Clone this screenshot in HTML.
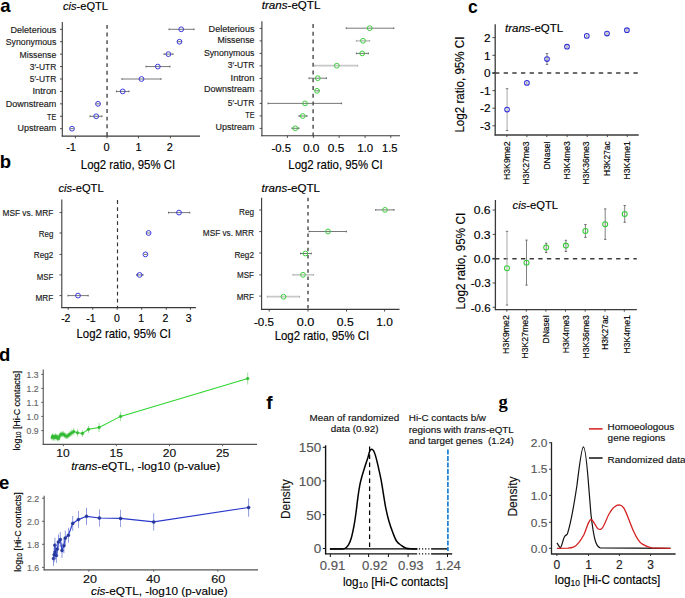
<!DOCTYPE html>
<html><head><meta charset="utf-8"><style>
html,body{margin:0;padding:0;background:#fff;}
svg{display:block;font-family:"Liberation Sans", sans-serif;}
</style></head><body>
<svg width="685" height="598" viewBox="0 0 685 598">
<rect width="685" height="598" fill="#fff"/>
<text x="0.2" y="11.6" font-size="18.5" font-weight="bold">a</text>
<text x="-0.2" y="167.8" font-size="18.5" font-weight="bold">b</text>
<text x="468.1" y="13.4" font-size="17.5" font-weight="bold">c</text>
<text x="-1" y="361" font-size="18.5" font-weight="bold">d</text>
<text x="-1" y="489.3" font-size="18.5" font-weight="bold">e</text>
<text x="266.3" y="408.8" font-size="19" font-weight="bold">f</text>
<text x="498.6" y="408.2" font-size="18.5" font-weight="bold" font-family="Liberation Serif, serif">g</text>
<text x="63" y="9.8" font-size="10.3" stroke="#000" stroke-width="0.15" textLength="45" lengthAdjust="spacingAndGlyphs"><tspan font-style="italic">cis</tspan>-eQTL</text>
<line x1="62.3" y1="22" x2="62.3" y2="136.6" stroke="#3a3a3a" stroke-width="1.1"/>
<line x1="61.8" y1="136.1" x2="200" y2="136.1" stroke="#3a3a3a" stroke-width="1.1"/>
<line x1="107.05" y1="24.9" x2="107.05" y2="136.1" stroke="#3a3a3a" stroke-width="1.3" stroke-dasharray="3.9,3.75"/>
<line x1="60.0" y1="29.3" x2="62.3" y2="29.3" stroke="#3a3a3a" stroke-width="0.9"/>
<line x1="60.0" y1="41.725" x2="62.3" y2="41.725" stroke="#3a3a3a" stroke-width="0.9"/>
<line x1="60.0" y1="54.150000000000006" x2="62.3" y2="54.150000000000006" stroke="#3a3a3a" stroke-width="0.9"/>
<line x1="60.0" y1="66.575" x2="62.3" y2="66.575" stroke="#3a3a3a" stroke-width="0.9"/>
<line x1="60.0" y1="79.0" x2="62.3" y2="79.0" stroke="#3a3a3a" stroke-width="0.9"/>
<line x1="60.0" y1="91.425" x2="62.3" y2="91.425" stroke="#3a3a3a" stroke-width="0.9"/>
<line x1="60.0" y1="103.85000000000001" x2="62.3" y2="103.85000000000001" stroke="#3a3a3a" stroke-width="0.9"/>
<line x1="60.0" y1="116.275" x2="62.3" y2="116.275" stroke="#3a3a3a" stroke-width="0.9"/>
<line x1="60.0" y1="128.70000000000002" x2="62.3" y2="128.70000000000002" stroke="#3a3a3a" stroke-width="0.9"/>
<text x="56.3" y="33" font-size="8.3" text-anchor="end" textLength="45.8" lengthAdjust="spacingAndGlyphs" fill="#1a1a1a" stroke="#1a1a1a" stroke-width="0.15">Deleterious</text>
<text x="56.3" y="44.7" font-size="8.3" text-anchor="end" textLength="50.6" lengthAdjust="spacingAndGlyphs" fill="#1a1a1a" stroke="#1a1a1a" stroke-width="0.15">Synonymous</text>
<text x="56.3" y="57.5" font-size="8.3" text-anchor="end" textLength="36.7" lengthAdjust="spacingAndGlyphs" fill="#1a1a1a" stroke="#1a1a1a" stroke-width="0.15">Missense</text>
<text x="56.3" y="69.6" font-size="8.3" text-anchor="end" textLength="26.5" lengthAdjust="spacingAndGlyphs" fill="#1a1a1a" stroke="#1a1a1a" stroke-width="0.15">3&#8242;-UTR</text>
<text x="56.3" y="82.1" font-size="8.3" text-anchor="end" textLength="26.5" lengthAdjust="spacingAndGlyphs" fill="#1a1a1a" stroke="#1a1a1a" stroke-width="0.15">5&#8242;-UTR</text>
<text x="56.3" y="93.9" font-size="8.3" text-anchor="end" textLength="23.9" lengthAdjust="spacingAndGlyphs" fill="#1a1a1a" stroke="#1a1a1a" stroke-width="0.15">Intron</text>
<text x="56.3" y="106.5" font-size="8.3" text-anchor="end" textLength="50.6" lengthAdjust="spacingAndGlyphs" fill="#1a1a1a" stroke="#1a1a1a" stroke-width="0.15">Downstream</text>
<text x="56.3" y="119.9" font-size="8.3" text-anchor="end" textLength="9.2" lengthAdjust="spacingAndGlyphs" fill="#1a1a1a" stroke="#1a1a1a" stroke-width="0.15">TE</text>
<text x="56.3" y="131.4" font-size="8.3" text-anchor="end" textLength="38.8" lengthAdjust="spacingAndGlyphs" fill="#1a1a1a" stroke="#1a1a1a" stroke-width="0.15">Upstream</text>
<line x1="75.4" y1="136.1" x2="75.4" y2="138.29999999999998" stroke="#3a3a3a" stroke-width="0.9"/>
<line x1="107" y1="136.1" x2="107" y2="138.29999999999998" stroke="#3a3a3a" stroke-width="0.9"/>
<line x1="138.5" y1="136.1" x2="138.5" y2="138.29999999999998" stroke="#3a3a3a" stroke-width="0.9"/>
<line x1="170.4" y1="136.1" x2="170.4" y2="138.29999999999998" stroke="#3a3a3a" stroke-width="0.9"/>
<line x1="169" y1="29.3" x2="194" y2="29.3" stroke="#555" stroke-width="0.8"/>
<line x1="169" y1="28.400000000000002" x2="169" y2="30.2" stroke="#444" stroke-width="0.75"/>
<line x1="194" y1="28.400000000000002" x2="194" y2="30.2" stroke="#444" stroke-width="0.75"/>
<circle cx="181.2" cy="29.3" r="2.4" fill="none" stroke="#3030d8" stroke-width="0.95"/>
<line x1="177" y1="41.725" x2="182" y2="41.725" stroke="#555" stroke-width="0.8"/>
<circle cx="179.5" cy="41.725" r="2.4" fill="none" stroke="#3030d8" stroke-width="0.95"/>
<line x1="164" y1="54.150000000000006" x2="173" y2="54.150000000000006" stroke="#555" stroke-width="0.8"/>
<line x1="164" y1="53.25000000000001" x2="164" y2="55.050000000000004" stroke="#444" stroke-width="0.75"/>
<line x1="173" y1="53.25000000000001" x2="173" y2="55.050000000000004" stroke="#444" stroke-width="0.75"/>
<circle cx="168.4" cy="54.150000000000006" r="2.4" fill="none" stroke="#3030d8" stroke-width="0.95"/>
<line x1="146" y1="66.575" x2="170" y2="66.575" stroke="#555" stroke-width="0.8"/>
<line x1="146" y1="65.675" x2="146" y2="67.47500000000001" stroke="#444" stroke-width="0.75"/>
<line x1="170" y1="65.675" x2="170" y2="67.47500000000001" stroke="#444" stroke-width="0.75"/>
<circle cx="157.8" cy="66.575" r="2.4" fill="none" stroke="#3030d8" stroke-width="0.95"/>
<line x1="122" y1="79.0" x2="161" y2="79.0" stroke="#555" stroke-width="0.8"/>
<line x1="122" y1="78.1" x2="122" y2="79.9" stroke="#444" stroke-width="0.75"/>
<line x1="161" y1="78.1" x2="161" y2="79.9" stroke="#444" stroke-width="0.75"/>
<circle cx="141.5" cy="79.0" r="2.4" fill="none" stroke="#3030d8" stroke-width="0.95"/>
<line x1="116.5" y1="91.425" x2="129" y2="91.425" stroke="#555" stroke-width="0.8"/>
<line x1="116.5" y1="90.52499999999999" x2="116.5" y2="92.325" stroke="#444" stroke-width="0.75"/>
<line x1="129" y1="90.52499999999999" x2="129" y2="92.325" stroke="#444" stroke-width="0.75"/>
<circle cx="122.7" cy="91.425" r="2.4" fill="none" stroke="#3030d8" stroke-width="0.95"/>
<line x1="96" y1="103.85000000000001" x2="100.5" y2="103.85000000000001" stroke="#555" stroke-width="0.8"/>
<circle cx="98.0" cy="103.85000000000001" r="2.4" fill="none" stroke="#3030d8" stroke-width="0.95"/>
<line x1="90" y1="116.275" x2="102" y2="116.275" stroke="#555" stroke-width="0.8"/>
<line x1="90" y1="115.375" x2="90" y2="117.17500000000001" stroke="#444" stroke-width="0.75"/>
<line x1="102" y1="115.375" x2="102" y2="117.17500000000001" stroke="#444" stroke-width="0.75"/>
<circle cx="96.2" cy="116.275" r="2.4" fill="none" stroke="#3030d8" stroke-width="0.95"/>
<line x1="70" y1="128.70000000000002" x2="74" y2="128.70000000000002" stroke="#555" stroke-width="0.8"/>
<circle cx="72" cy="128.70000000000002" r="2.4" fill="none" stroke="#3030d8" stroke-width="0.95"/>
<text x="71.1" y="150.9" font-size="11" text-anchor="middle" stroke="#000" stroke-width="0.15">-1</text>
<text x="106.65" y="150.9" font-size="11" text-anchor="middle" stroke="#000" stroke-width="0.15">0</text>
<text x="138.6" y="150.9" font-size="11" text-anchor="middle" stroke="#000" stroke-width="0.15">1</text>
<text x="169.75" y="150.9" font-size="11" text-anchor="middle" stroke="#000" stroke-width="0.15">2</text>
<text x="80.8" y="168.9" font-size="12.4" textLength="94.3" lengthAdjust="spacingAndGlyphs" stroke="#000" stroke-width="0.15">Log2 ratio, 95% CI</text>
<text x="261.8" y="8.6" font-size="10.3" stroke="#000" stroke-width="0.15" textLength="58.6" lengthAdjust="spacingAndGlyphs"><tspan font-style="italic">trans</tspan>-eQTL</text>
<line x1="261.9" y1="21.2" x2="261.9" y2="136.2" stroke="#3a3a3a" stroke-width="1.1"/>
<line x1="261.4" y1="135.7" x2="400" y2="135.7" stroke="#3a3a3a" stroke-width="1.1"/>
<line x1="313.1" y1="24.0" x2="313.1" y2="135.7" stroke="#3a3a3a" stroke-width="1.3" stroke-dasharray="3.9,3.85"/>
<line x1="259.59999999999997" y1="28.4" x2="261.9" y2="28.4" stroke="#3a3a3a" stroke-width="0.9"/>
<line x1="259.59999999999997" y1="40.9" x2="261.9" y2="40.9" stroke="#3a3a3a" stroke-width="0.9"/>
<line x1="259.59999999999997" y1="53.4" x2="261.9" y2="53.4" stroke="#3a3a3a" stroke-width="0.9"/>
<line x1="259.59999999999997" y1="65.9" x2="261.9" y2="65.9" stroke="#3a3a3a" stroke-width="0.9"/>
<line x1="259.59999999999997" y1="78.4" x2="261.9" y2="78.4" stroke="#3a3a3a" stroke-width="0.9"/>
<line x1="259.59999999999997" y1="90.9" x2="261.9" y2="90.9" stroke="#3a3a3a" stroke-width="0.9"/>
<line x1="259.59999999999997" y1="103.4" x2="261.9" y2="103.4" stroke="#3a3a3a" stroke-width="0.9"/>
<line x1="259.59999999999997" y1="115.9" x2="261.9" y2="115.9" stroke="#3a3a3a" stroke-width="0.9"/>
<line x1="259.59999999999997" y1="128.4" x2="261.9" y2="128.4" stroke="#3a3a3a" stroke-width="0.9"/>
<text x="254.5" y="31.7" font-size="8.3" text-anchor="end" textLength="45.9" lengthAdjust="spacingAndGlyphs" fill="#1a1a1a" stroke="#1a1a1a" stroke-width="0.15">Deleterious</text>
<text x="254.5" y="43.1" font-size="8.3" text-anchor="end" textLength="37" lengthAdjust="spacingAndGlyphs" fill="#1a1a1a" stroke="#1a1a1a" stroke-width="0.15">Missense</text>
<text x="254.5" y="56" font-size="8.3" text-anchor="end" textLength="50.6" lengthAdjust="spacingAndGlyphs" fill="#1a1a1a" stroke="#1a1a1a" stroke-width="0.15">Synonymous</text>
<text x="254.5" y="67.8" font-size="8.3" text-anchor="end" textLength="26.7" lengthAdjust="spacingAndGlyphs" fill="#1a1a1a" stroke="#1a1a1a" stroke-width="0.15">3&#8242;-UTR</text>
<text x="254.5" y="80.6" font-size="8.3" text-anchor="end" textLength="23.9" lengthAdjust="spacingAndGlyphs" fill="#1a1a1a" stroke="#1a1a1a" stroke-width="0.15">Intron</text>
<text x="254.5" y="92" font-size="8.3" text-anchor="end" textLength="50.6" lengthAdjust="spacingAndGlyphs" fill="#1a1a1a" stroke="#1a1a1a" stroke-width="0.15">Downstream</text>
<text x="254.5" y="105.7" font-size="8.3" text-anchor="end" textLength="26.7" lengthAdjust="spacingAndGlyphs" fill="#1a1a1a" stroke="#1a1a1a" stroke-width="0.15">5&#8242;-UTR</text>
<text x="254.5" y="118.3" font-size="8.3" text-anchor="end" textLength="9.2" lengthAdjust="spacingAndGlyphs" fill="#1a1a1a" stroke="#1a1a1a" stroke-width="0.15">TE</text>
<text x="254.5" y="129.8" font-size="8.3" text-anchor="end" textLength="38.9" lengthAdjust="spacingAndGlyphs" fill="#1a1a1a" stroke="#1a1a1a" stroke-width="0.15">Upstream</text>
<line x1="287.4" y1="135.7" x2="287.4" y2="137.89999999999998" stroke="#3a3a3a" stroke-width="0.9"/>
<line x1="313.4" y1="135.7" x2="313.4" y2="137.89999999999998" stroke="#3a3a3a" stroke-width="0.9"/>
<line x1="339.1" y1="135.7" x2="339.1" y2="137.89999999999998" stroke="#3a3a3a" stroke-width="0.9"/>
<line x1="365.1" y1="135.7" x2="365.1" y2="137.89999999999998" stroke="#3a3a3a" stroke-width="0.9"/>
<line x1="390.8" y1="135.7" x2="390.8" y2="137.89999999999998" stroke="#3a3a3a" stroke-width="0.9"/>
<line x1="346.2" y1="28.2" x2="393.8" y2="28.2" stroke="#555" stroke-width="0.8"/>
<line x1="346.2" y1="27.3" x2="346.2" y2="29.099999999999998" stroke="#444" stroke-width="0.75"/>
<line x1="393.8" y1="27.3" x2="393.8" y2="29.099999999999998" stroke="#444" stroke-width="0.75"/>
<circle cx="369.7" cy="28.2" r="2.4" fill="none" stroke="#33cc33" stroke-width="0.95"/>
<line x1="356.3" y1="40.8" x2="369.7" y2="40.8" stroke="#c8c8c8" stroke-width="1.7"/>
<line x1="356.3" y1="39.9" x2="356.3" y2="41.699999999999996" stroke="#999" stroke-width="0.75"/>
<line x1="369.7" y1="39.9" x2="369.7" y2="41.699999999999996" stroke="#999" stroke-width="0.75"/>
<circle cx="363" cy="40.8" r="2.4" fill="none" stroke="#33cc33" stroke-width="0.95"/>
<line x1="356.3" y1="53.4" x2="368.4" y2="53.4" stroke="#555" stroke-width="0.8"/>
<line x1="356.3" y1="52.5" x2="356.3" y2="54.3" stroke="#444" stroke-width="0.75"/>
<line x1="368.4" y1="52.5" x2="368.4" y2="54.3" stroke="#444" stroke-width="0.75"/>
<circle cx="362.2" cy="53.4" r="2.4" fill="none" stroke="#33cc33" stroke-width="0.95"/>
<line x1="314.8" y1="65.7" x2="357.7" y2="65.7" stroke="#c8c8c8" stroke-width="1.7"/>
<line x1="314.8" y1="64.8" x2="314.8" y2="66.60000000000001" stroke="#999" stroke-width="0.75"/>
<line x1="357.7" y1="64.8" x2="357.7" y2="66.60000000000001" stroke="#999" stroke-width="0.75"/>
<circle cx="336.8" cy="65.7" r="2.4" fill="none" stroke="#33cc33" stroke-width="0.95"/>
<line x1="309" y1="78.2" x2="326.4" y2="78.2" stroke="#555" stroke-width="0.8"/>
<line x1="309" y1="77.3" x2="309" y2="79.10000000000001" stroke="#444" stroke-width="0.75"/>
<line x1="326.4" y1="77.3" x2="326.4" y2="79.10000000000001" stroke="#444" stroke-width="0.75"/>
<circle cx="317.8" cy="78.2" r="2.4" fill="none" stroke="#33cc33" stroke-width="0.95"/>
<line x1="315" y1="90.8" x2="320" y2="90.8" stroke="#555" stroke-width="0.8"/>
<circle cx="317" cy="90.8" r="2.4" fill="none" stroke="#33cc33" stroke-width="0.95"/>
<line x1="268" y1="103.4" x2="341.6" y2="103.4" stroke="#555" stroke-width="0.8"/>
<line x1="268" y1="102.5" x2="268" y2="104.30000000000001" stroke="#444" stroke-width="0.75"/>
<line x1="341.6" y1="102.5" x2="341.6" y2="104.30000000000001" stroke="#444" stroke-width="0.75"/>
<circle cx="305" cy="103.4" r="2.4" fill="none" stroke="#33cc33" stroke-width="0.95"/>
<line x1="299" y1="116" x2="307" y2="116" stroke="#555" stroke-width="0.8"/>
<line x1="299" y1="115.1" x2="299" y2="116.9" stroke="#444" stroke-width="0.75"/>
<line x1="307" y1="115.1" x2="307" y2="116.9" stroke="#444" stroke-width="0.75"/>
<circle cx="302.8" cy="116" r="2.4" fill="none" stroke="#33cc33" stroke-width="0.95"/>
<line x1="292" y1="128.3" x2="299" y2="128.3" stroke="#555" stroke-width="0.8"/>
<line x1="292" y1="127.4" x2="292" y2="129.20000000000002" stroke="#444" stroke-width="0.75"/>
<line x1="299" y1="127.4" x2="299" y2="129.20000000000002" stroke="#444" stroke-width="0.75"/>
<circle cx="295.3" cy="128.3" r="2.4" fill="none" stroke="#33cc33" stroke-width="0.95"/>
<text x="281.3" y="152.1" font-size="11" text-anchor="middle" textLength="19.6" lengthAdjust="spacingAndGlyphs" stroke="#000" stroke-width="0.15">-0.5</text>
<text x="311.2" y="152.1" font-size="11" text-anchor="middle" textLength="16.6" lengthAdjust="spacingAndGlyphs" stroke="#000" stroke-width="0.15">0.0</text>
<text x="336.0" y="152.1" font-size="11" text-anchor="middle" textLength="16.6" lengthAdjust="spacingAndGlyphs" stroke="#000" stroke-width="0.15">0.5</text>
<text x="365.15" y="152.1" font-size="11" text-anchor="middle" textLength="15.900000000000011" lengthAdjust="spacingAndGlyphs" stroke="#000" stroke-width="0.15">1.0</text>
<text x="389.75" y="152.1" font-size="11" text-anchor="middle" textLength="15.499999999999977" lengthAdjust="spacingAndGlyphs" stroke="#000" stroke-width="0.15">1.5</text>
<text x="288.3" y="168.9" font-size="12.4" textLength="94.3" lengthAdjust="spacingAndGlyphs" stroke="#000" stroke-width="0.15">Log2 ratio, 95% CI</text>
<text x="58.4" y="192.1" font-size="10.3" stroke="#000" stroke-width="0.15" textLength="45.2" lengthAdjust="spacingAndGlyphs"><tspan font-style="italic">cis</tspan>-eQTL</text>
<line x1="61.8" y1="199.4" x2="61.8" y2="308.1" stroke="#3a3a3a" stroke-width="1.1"/>
<line x1="61.3" y1="307.6" x2="195.9" y2="307.6" stroke="#3a3a3a" stroke-width="1.1"/>
<line x1="117.5" y1="200.1" x2="117.5" y2="307.6" stroke="#333" stroke-width="1.15" stroke-dasharray="3.8,3.25"/>
<line x1="59.5" y1="212.6" x2="61.8" y2="212.6" stroke="#3a3a3a" stroke-width="0.9"/>
<line x1="59.5" y1="233.0" x2="61.8" y2="233.0" stroke="#3a3a3a" stroke-width="0.9"/>
<line x1="59.5" y1="254.4" x2="61.8" y2="254.4" stroke="#3a3a3a" stroke-width="0.9"/>
<line x1="59.5" y1="274.9" x2="61.8" y2="274.9" stroke="#3a3a3a" stroke-width="0.9"/>
<line x1="59.5" y1="295.6" x2="61.8" y2="295.6" stroke="#3a3a3a" stroke-width="0.9"/>
<text x="53.3" y="215.8" font-size="8.7" text-anchor="end" textLength="50.8" lengthAdjust="spacingAndGlyphs" fill="#1a1a1a" stroke="#1a1a1a" stroke-width="0.15">MSF vs. MRF</text>
<text x="53.3" y="236.8" font-size="8.7" text-anchor="end" textLength="14.5" lengthAdjust="spacingAndGlyphs" fill="#1a1a1a" stroke="#1a1a1a" stroke-width="0.15">Reg</text>
<text x="53.3" y="258.4" font-size="8.7" text-anchor="end" textLength="19.5" lengthAdjust="spacingAndGlyphs" fill="#1a1a1a" stroke="#1a1a1a" stroke-width="0.15">Reg2</text>
<text x="53.3" y="279.5" font-size="8.7" text-anchor="end" textLength="16.6" lengthAdjust="spacingAndGlyphs" fill="#1a1a1a" stroke="#1a1a1a" stroke-width="0.15">MSF</text>
<text x="53.3" y="300.9" font-size="8.7" text-anchor="end" textLength="17.8" lengthAdjust="spacingAndGlyphs" fill="#1a1a1a" stroke="#1a1a1a" stroke-width="0.15">MRF</text>
<line x1="68.2" y1="307.6" x2="68.2" y2="309.8" stroke="#3a3a3a" stroke-width="0.9"/>
<line x1="92.7" y1="307.6" x2="92.7" y2="309.8" stroke="#3a3a3a" stroke-width="0.9"/>
<line x1="117.2" y1="307.6" x2="117.2" y2="309.8" stroke="#3a3a3a" stroke-width="0.9"/>
<line x1="141.7" y1="307.6" x2="141.7" y2="309.8" stroke="#3a3a3a" stroke-width="0.9"/>
<line x1="166.3" y1="307.6" x2="166.3" y2="309.8" stroke="#3a3a3a" stroke-width="0.9"/>
<line x1="190.4" y1="307.6" x2="190.4" y2="309.8" stroke="#3a3a3a" stroke-width="0.9"/>
<line x1="168.5" y1="212.6" x2="189.8" y2="212.6" stroke="#555" stroke-width="0.8"/>
<line x1="168.5" y1="211.7" x2="168.5" y2="213.5" stroke="#444" stroke-width="0.75"/>
<line x1="189.8" y1="211.7" x2="189.8" y2="213.5" stroke="#444" stroke-width="0.75"/>
<circle cx="179" cy="212.6" r="2.4" fill="none" stroke="#3030d8" stroke-width="0.95"/>
<line x1="147" y1="233.0" x2="150.3" y2="233.0" stroke="#555" stroke-width="0.8"/>
<circle cx="148.6" cy="233.0" r="2.4" fill="none" stroke="#3030d8" stroke-width="0.95"/>
<line x1="144" y1="254.4" x2="147" y2="254.4" stroke="#555" stroke-width="0.8"/>
<circle cx="145.4" cy="254.4" r="2.4" fill="none" stroke="#3030d8" stroke-width="0.95"/>
<line x1="136.7" y1="274.9" x2="143" y2="274.9" stroke="#555" stroke-width="0.8"/>
<line x1="136.7" y1="274.0" x2="136.7" y2="275.79999999999995" stroke="#444" stroke-width="0.75"/>
<line x1="143" y1="274.0" x2="143" y2="275.79999999999995" stroke="#444" stroke-width="0.75"/>
<circle cx="139.6" cy="274.9" r="2.4" fill="none" stroke="#3030d8" stroke-width="0.95"/>
<line x1="68" y1="295.6" x2="88.2" y2="295.6" stroke="#555" stroke-width="0.8"/>
<line x1="68" y1="294.70000000000005" x2="68" y2="296.5" stroke="#444" stroke-width="0.75"/>
<line x1="88.2" y1="294.70000000000005" x2="88.2" y2="296.5" stroke="#444" stroke-width="0.75"/>
<circle cx="78" cy="295.6" r="2.4" fill="none" stroke="#3030d8" stroke-width="0.95"/>
<text x="65.8" y="322.4" font-size="10.5" text-anchor="middle" stroke="#000" stroke-width="0.15">-2</text>
<text x="91.0" y="322.4" font-size="10.5" text-anchor="middle" stroke="#000" stroke-width="0.15">-1</text>
<text x="116.9" y="322.4" font-size="10.5" text-anchor="middle" stroke="#000" stroke-width="0.15">0</text>
<text x="141.25" y="322.4" font-size="10.5" text-anchor="middle" stroke="#000" stroke-width="0.15">1</text>
<text x="165.45" y="322.4" font-size="10.5" text-anchor="middle" stroke="#000" stroke-width="0.15">2</text>
<text x="188.75" y="322.4" font-size="10.5" text-anchor="middle" stroke="#000" stroke-width="0.15">3</text>
<text x="76.5" y="337.8" font-size="12.4" textLength="94.3" lengthAdjust="spacingAndGlyphs" stroke="#000" stroke-width="0.15">Log2 ratio, 95% CI</text>
<text x="261.5" y="192.1" font-size="10.3" stroke="#000" stroke-width="0.15" textLength="58.5" lengthAdjust="spacingAndGlyphs"><tspan font-style="italic">trans</tspan>-eQTL</text>
<line x1="261.6" y1="197.8" x2="261.6" y2="309.9" stroke="#3a3a3a" stroke-width="1.1"/>
<line x1="261.1" y1="309.4" x2="399.5" y2="309.4" stroke="#3a3a3a" stroke-width="1.1"/>
<line x1="308.0" y1="197.8" x2="308.0" y2="309.4" stroke="#777" stroke-width="1.9" stroke-dasharray="3.5,3.65"/>
<line x1="259.3" y1="210" x2="261.6" y2="210" stroke="#3a3a3a" stroke-width="0.9"/>
<line x1="259.3" y1="231.6" x2="261.6" y2="231.6" stroke="#3a3a3a" stroke-width="0.9"/>
<line x1="259.3" y1="253.0" x2="261.6" y2="253.0" stroke="#3a3a3a" stroke-width="0.9"/>
<line x1="259.3" y1="274.9" x2="261.6" y2="274.9" stroke="#3a3a3a" stroke-width="0.9"/>
<line x1="259.3" y1="296.1" x2="261.6" y2="296.1" stroke="#3a3a3a" stroke-width="0.9"/>
<text x="254" y="214.9" font-size="8.7" text-anchor="end" textLength="15" lengthAdjust="spacingAndGlyphs" fill="#1a1a1a" stroke="#1a1a1a" stroke-width="0.15">Reg</text>
<text x="254" y="236" font-size="8.7" text-anchor="end" textLength="51.2" lengthAdjust="spacingAndGlyphs" fill="#1a1a1a" stroke="#1a1a1a" stroke-width="0.15">MSF vs. MRR</text>
<text x="254" y="257.5" font-size="8.7" text-anchor="end" textLength="19.6" lengthAdjust="spacingAndGlyphs" fill="#1a1a1a" stroke="#1a1a1a" stroke-width="0.15">Reg2</text>
<text x="254" y="278.4" font-size="8.7" text-anchor="end" textLength="17" lengthAdjust="spacingAndGlyphs" fill="#1a1a1a" stroke="#1a1a1a" stroke-width="0.15">MSF</text>
<text x="254" y="299.6" font-size="8.7" text-anchor="end" textLength="17.3" lengthAdjust="spacingAndGlyphs" fill="#1a1a1a" stroke="#1a1a1a" stroke-width="0.15">MRF</text>
<line x1="269.2" y1="309.4" x2="269.2" y2="311.59999999999997" stroke="#3a3a3a" stroke-width="0.9"/>
<line x1="308" y1="309.4" x2="308" y2="311.59999999999997" stroke="#3a3a3a" stroke-width="0.9"/>
<line x1="346.5" y1="309.4" x2="346.5" y2="311.59999999999997" stroke="#3a3a3a" stroke-width="0.9"/>
<line x1="384.6" y1="309.4" x2="384.6" y2="311.59999999999997" stroke="#3a3a3a" stroke-width="0.9"/>
<line x1="375.7" y1="209.9" x2="394" y2="209.9" stroke="#555" stroke-width="0.8"/>
<line x1="375.7" y1="209.0" x2="375.7" y2="210.8" stroke="#444" stroke-width="0.75"/>
<line x1="394" y1="209.0" x2="394" y2="210.8" stroke="#444" stroke-width="0.75"/>
<circle cx="385" cy="209.9" r="2.4" fill="none" stroke="#33cc33" stroke-width="0.95"/>
<line x1="309" y1="231.5" x2="346.4" y2="231.5" stroke="#555" stroke-width="0.8"/>
<line x1="309" y1="230.6" x2="309" y2="232.4" stroke="#444" stroke-width="0.75"/>
<line x1="346.4" y1="230.6" x2="346.4" y2="232.4" stroke="#444" stroke-width="0.75"/>
<circle cx="328" cy="231.5" r="2.4" fill="none" stroke="#33cc33" stroke-width="0.95"/>
<line x1="300.5" y1="253.5" x2="311.3" y2="253.5" stroke="#555" stroke-width="0.8"/>
<line x1="300.5" y1="252.6" x2="300.5" y2="254.4" stroke="#444" stroke-width="0.75"/>
<line x1="311.3" y1="252.6" x2="311.3" y2="254.4" stroke="#444" stroke-width="0.75"/>
<circle cx="305.4" cy="253.5" r="2.4" fill="none" stroke="#33cc33" stroke-width="0.95"/>
<line x1="293" y1="274.8" x2="313.6" y2="274.8" stroke="#c8c8c8" stroke-width="1.7"/>
<line x1="293" y1="273.90000000000003" x2="293" y2="275.7" stroke="#999" stroke-width="0.75"/>
<line x1="313.6" y1="273.90000000000003" x2="313.6" y2="275.7" stroke="#999" stroke-width="0.75"/>
<circle cx="303" cy="274.8" r="2.4" fill="none" stroke="#33cc33" stroke-width="0.95"/>
<line x1="267.3" y1="296.7" x2="299.6" y2="296.7" stroke="#c8c8c8" stroke-width="1.7"/>
<line x1="267.3" y1="295.8" x2="267.3" y2="297.59999999999997" stroke="#999" stroke-width="0.75"/>
<line x1="299.6" y1="295.8" x2="299.6" y2="297.59999999999997" stroke="#999" stroke-width="0.75"/>
<circle cx="283.5" cy="296.7" r="2.4" fill="none" stroke="#33cc33" stroke-width="0.95"/>
<text x="263.9" y="325.5" font-size="11" text-anchor="middle" textLength="20.000000000000036" lengthAdjust="spacingAndGlyphs" stroke="#000" stroke-width="0.15">-0.5</text>
<text x="305.55" y="325.5" font-size="11" text-anchor="middle" textLength="17.700000000000024" lengthAdjust="spacingAndGlyphs" stroke="#000" stroke-width="0.15">0.0</text>
<text x="345.3" y="325.5" font-size="11" text-anchor="middle" textLength="16.99999999999998" lengthAdjust="spacingAndGlyphs" stroke="#000" stroke-width="0.15">0.5</text>
<text x="384.5" y="325.5" font-size="11" text-anchor="middle" textLength="16.6" lengthAdjust="spacingAndGlyphs" stroke="#000" stroke-width="0.15">1.0</text>
<text x="274.7" y="340.1" font-size="12.4" textLength="94.4" lengthAdjust="spacingAndGlyphs" stroke="#000" stroke-width="0.15">Log2 ratio, 95% CI</text>
<line x1="495.2" y1="24.3" x2="495.2" y2="135.5" stroke="#3a3a3a" stroke-width="1.3"/>
<line x1="494.59999999999997" y1="135.0" x2="638.7" y2="135.0" stroke="#3a3a3a" stroke-width="1.3"/>
<line x1="495.0" y1="73" x2="638.7" y2="73" stroke="#3c3c3c" stroke-width="1.6" stroke-dasharray="4.35,4.3"/>
<line x1="492.4" y1="73" x2="495.0" y2="73" stroke="#3c3c3c" stroke-width="1.6"/>
<line x1="492.4" y1="37.6" x2="495.2" y2="37.6" stroke="#3a3a3a" stroke-width="0.9"/>
<text x="490.6" y="41.800000000000004" font-size="11.8" text-anchor="end" stroke="#000" stroke-width="0.15">2</text>
<line x1="492.4" y1="55.3" x2="495.2" y2="55.3" stroke="#3a3a3a" stroke-width="0.9"/>
<text x="490.6" y="59.5" font-size="11.8" text-anchor="end" stroke="#000" stroke-width="0.15">1</text>
<line x1="492.4" y1="73" x2="495.2" y2="73" stroke="#3a3a3a" stroke-width="0.9"/>
<text x="490.6" y="77.2" font-size="11.8" text-anchor="end" stroke="#000" stroke-width="0.15">0</text>
<line x1="492.4" y1="90.6" x2="495.2" y2="90.6" stroke="#3a3a3a" stroke-width="0.9"/>
<text x="490.6" y="94.8" font-size="11.8" text-anchor="end" stroke="#000" stroke-width="0.15">-1</text>
<line x1="492.4" y1="108.2" x2="495.2" y2="108.2" stroke="#3a3a3a" stroke-width="0.9"/>
<text x="490.6" y="112.4" font-size="11.8" text-anchor="end" stroke="#000" stroke-width="0.15">-2</text>
<line x1="492.4" y1="125.8" x2="495.2" y2="125.8" stroke="#3a3a3a" stroke-width="0.9"/>
<text x="490.6" y="130.0" font-size="11.8" text-anchor="end" stroke="#000" stroke-width="0.15">-3</text>
<line x1="506.8" y1="135.0" x2="506.8" y2="137.1" stroke="#3a3a3a" stroke-width="0.9"/>
<line x1="526.9" y1="135.0" x2="526.9" y2="137.1" stroke="#3a3a3a" stroke-width="0.9"/>
<line x1="546.8" y1="135.0" x2="546.8" y2="137.1" stroke="#3a3a3a" stroke-width="0.9"/>
<line x1="567.1" y1="135.0" x2="567.1" y2="137.1" stroke="#3a3a3a" stroke-width="0.9"/>
<line x1="587.2" y1="135.0" x2="587.2" y2="137.1" stroke="#3a3a3a" stroke-width="0.9"/>
<line x1="607.4" y1="135.0" x2="607.4" y2="137.1" stroke="#3a3a3a" stroke-width="0.9"/>
<line x1="627.3" y1="135.0" x2="627.3" y2="137.1" stroke="#3a3a3a" stroke-width="0.9"/>
<text x="509.7" y="141.3" font-size="9.3" text-anchor="end" textLength="38.699999999999996" lengthAdjust="spacingAndGlyphs" stroke="#000" stroke-width="0.15" transform="rotate(-90 509.7 141.3)">H3K9me2</text>
<text x="529.0" y="141.3" font-size="9.3" text-anchor="end" textLength="43.4" lengthAdjust="spacingAndGlyphs" stroke="#000" stroke-width="0.15" transform="rotate(-90 529.0 141.3)">H3K27me3</text>
<text x="550.0" y="141.3" font-size="9.3" text-anchor="end" textLength="28.2" lengthAdjust="spacingAndGlyphs" stroke="#000" stroke-width="0.15" transform="rotate(-90 550.0 141.3)">DNaseI</text>
<text x="569.8000000000001" y="141.3" font-size="9.3" text-anchor="end" textLength="38.099999999999994" lengthAdjust="spacingAndGlyphs" stroke="#000" stroke-width="0.15" transform="rotate(-90 569.8000000000001 141.3)">H3K4me3</text>
<text x="589.5" y="141.3" font-size="9.3" text-anchor="end" textLength="43.4" lengthAdjust="spacingAndGlyphs" stroke="#000" stroke-width="0.15" transform="rotate(-90 589.5 141.3)">H3K36me3</text>
<text x="609.7" y="141.3" font-size="9.3" text-anchor="end" textLength="34.599999999999994" lengthAdjust="spacingAndGlyphs" stroke="#000" stroke-width="0.15" transform="rotate(-90 609.7 141.3)">H3K27ac</text>
<text x="630.5" y="141.3" font-size="9.3" text-anchor="end" textLength="38.099999999999994" lengthAdjust="spacingAndGlyphs" stroke="#000" stroke-width="0.15" transform="rotate(-90 630.5 141.3)">H3K4me1</text>
<line x1="507.1" y1="88.7" x2="507.1" y2="130.5" stroke="#b0b0b0" stroke-width="1.1"/>
<line x1="505.90000000000003" y1="88.7" x2="508.3" y2="88.7" stroke="#555" stroke-width="0.8"/>
<line x1="505.90000000000003" y1="130.5" x2="508.3" y2="130.5" stroke="#555" stroke-width="0.8"/>
<circle cx="507.1" cy="109.6" r="2.35" fill="none" stroke="#3030d8" stroke-width="1.05"/>
<line x1="526.9" y1="81.4" x2="526.9" y2="84.4" stroke="#606060" stroke-width="0.8"/>
<circle cx="526.9" cy="82.9" r="2.35" fill="none" stroke="#3030d8" stroke-width="1.05"/>
<line x1="547.0" y1="53.6" x2="547.0" y2="64.4" stroke="#606060" stroke-width="0.8"/>
<line x1="545.8" y1="53.6" x2="548.2" y2="53.6" stroke="#555" stroke-width="0.8"/>
<line x1="545.8" y1="64.4" x2="548.2" y2="64.4" stroke="#555" stroke-width="0.8"/>
<circle cx="547.0" cy="59" r="2.35" fill="none" stroke="#3030d8" stroke-width="1.05"/>
<line x1="567.0" y1="45.5" x2="567.0" y2="47.9" stroke="#606060" stroke-width="0.8"/>
<circle cx="567.0" cy="46.7" r="2.35" fill="none" stroke="#3030d8" stroke-width="1.05"/>
<line x1="586.8" y1="34.7" x2="586.8" y2="37.1" stroke="#606060" stroke-width="0.8"/>
<circle cx="586.8" cy="35.9" r="2.35" fill="none" stroke="#3030d8" stroke-width="1.05"/>
<line x1="607.0" y1="32.3" x2="607.0" y2="34.7" stroke="#606060" stroke-width="0.8"/>
<circle cx="607.0" cy="33.5" r="2.35" fill="none" stroke="#3030d8" stroke-width="1.05"/>
<line x1="626.9" y1="29" x2="626.9" y2="31.4" stroke="#606060" stroke-width="0.8"/>
<circle cx="626.9" cy="30.2" r="2.35" fill="none" stroke="#3030d8" stroke-width="1.05"/>
<text x="505.0" y="32.1" font-size="10.3" stroke="#000" stroke-width="0.15" textLength="58.2" lengthAdjust="spacingAndGlyphs"><tspan font-style="italic">trans</tspan>-eQTL</text>
<text x="464.09999999999997" y="84.6" font-size="12.2" text-anchor="middle" textLength="96" lengthAdjust="spacingAndGlyphs" stroke="#000" stroke-width="0.15" transform="rotate(-90 464.09999999999997 84.6)">Log2 ratio, 95% CI</text>
<line x1="495.4" y1="200" x2="495.4" y2="310.1" stroke="#3a3a3a" stroke-width="1.3"/>
<line x1="494.79999999999995" y1="309.6" x2="636.8" y2="309.6" stroke="#3a3a3a" stroke-width="1.3"/>
<line x1="495.0" y1="258.7" x2="636.8" y2="258.7" stroke="#3c3c3c" stroke-width="1.6" stroke-dasharray="4.35,4.3"/>
<line x1="492.4" y1="258.7" x2="495.0" y2="258.7" stroke="#3c3c3c" stroke-width="1.6"/>
<line x1="492.59999999999997" y1="210" x2="495.4" y2="210" stroke="#3a3a3a" stroke-width="0.9"/>
<text x="490.6" y="214.2" font-size="11.8" text-anchor="end" textLength="16.9" lengthAdjust="spacingAndGlyphs" stroke="#000" stroke-width="0.15">0.6</text>
<line x1="492.59999999999997" y1="234.4" x2="495.4" y2="234.4" stroke="#3a3a3a" stroke-width="0.9"/>
<text x="490.6" y="238.6" font-size="11.8" text-anchor="end" textLength="16.9" lengthAdjust="spacingAndGlyphs" stroke="#000" stroke-width="0.15">0.3</text>
<line x1="492.59999999999997" y1="258.7" x2="495.4" y2="258.7" stroke="#3a3a3a" stroke-width="0.9"/>
<text x="490.6" y="262.9" font-size="11.8" text-anchor="end" textLength="16.9" lengthAdjust="spacingAndGlyphs" stroke="#000" stroke-width="0.15">0.0</text>
<line x1="492.59999999999997" y1="283" x2="495.4" y2="283" stroke="#3a3a3a" stroke-width="0.9"/>
<text x="490.6" y="287.2" font-size="11.8" text-anchor="end" textLength="19.8" lengthAdjust="spacingAndGlyphs" stroke="#000" stroke-width="0.15">-0.3</text>
<line x1="492.59999999999997" y1="307.3" x2="495.4" y2="307.3" stroke="#3a3a3a" stroke-width="0.9"/>
<text x="490.6" y="311.5" font-size="11.8" text-anchor="end" textLength="19.8" lengthAdjust="spacingAndGlyphs" stroke="#000" stroke-width="0.15">-0.6</text>
<line x1="506.8" y1="309.6" x2="506.8" y2="311.70000000000005" stroke="#3a3a3a" stroke-width="0.9"/>
<line x1="526.3" y1="309.6" x2="526.3" y2="311.70000000000005" stroke="#3a3a3a" stroke-width="0.9"/>
<line x1="545.9" y1="309.6" x2="545.9" y2="311.70000000000005" stroke="#3a3a3a" stroke-width="0.9"/>
<line x1="565.5" y1="309.6" x2="565.5" y2="311.70000000000005" stroke="#3a3a3a" stroke-width="0.9"/>
<line x1="585.2" y1="309.6" x2="585.2" y2="311.70000000000005" stroke="#3a3a3a" stroke-width="0.9"/>
<line x1="605" y1="309.6" x2="605" y2="311.70000000000005" stroke="#3a3a3a" stroke-width="0.9"/>
<line x1="624.3" y1="309.6" x2="624.3" y2="311.70000000000005" stroke="#3a3a3a" stroke-width="0.9"/>
<text x="509.09999999999997" y="315.2" font-size="9.3" text-anchor="end" textLength="38.699999999999996" lengthAdjust="spacingAndGlyphs" stroke="#000" stroke-width="0.15" transform="rotate(-90 509.09999999999997 315.2)">H3K9me2</text>
<text x="528.5" y="315.2" font-size="9.3" text-anchor="end" textLength="43.4" lengthAdjust="spacingAndGlyphs" stroke="#000" stroke-width="0.15" transform="rotate(-90 528.5 315.2)">H3K27me3</text>
<text x="549.4000000000001" y="315.2" font-size="9.3" text-anchor="end" textLength="28.2" lengthAdjust="spacingAndGlyphs" stroke="#000" stroke-width="0.15" transform="rotate(-90 549.4000000000001 315.2)">DNaseI</text>
<text x="569.2" y="315.2" font-size="9.3" text-anchor="end" textLength="38.099999999999994" lengthAdjust="spacingAndGlyphs" stroke="#000" stroke-width="0.15" transform="rotate(-90 569.2 315.2)">H3K4me3</text>
<text x="588.8000000000001" y="315.2" font-size="9.3" text-anchor="end" textLength="43.4" lengthAdjust="spacingAndGlyphs" stroke="#000" stroke-width="0.15" transform="rotate(-90 588.8000000000001 315.2)">H3K36me3</text>
<text x="608.3000000000001" y="315.2" font-size="9.3" text-anchor="end" textLength="34.599999999999994" lengthAdjust="spacingAndGlyphs" stroke="#000" stroke-width="0.15" transform="rotate(-90 608.3000000000001 315.2)">H3K27ac</text>
<text x="629.8000000000001" y="315.2" font-size="9.3" text-anchor="end" textLength="38.4" lengthAdjust="spacingAndGlyphs" stroke="#000" stroke-width="0.15" transform="rotate(-90 629.8000000000001 315.2)">H3K4me1</text>
<line x1="507.0" y1="231.3" x2="507.0" y2="305" stroke="#b0b0b0" stroke-width="1.1"/>
<line x1="505.8" y1="231.3" x2="508.2" y2="231.3" stroke="#555" stroke-width="0.8"/>
<line x1="505.8" y1="305" x2="508.2" y2="305" stroke="#555" stroke-width="0.8"/>
<circle cx="507.0" cy="268.3" r="2.5" fill="none" stroke="#33cc33" stroke-width="1.05"/>
<line x1="526.5" y1="240.1" x2="526.5" y2="285.1" stroke="#606060" stroke-width="0.8"/>
<line x1="525.3" y1="240.1" x2="527.7" y2="240.1" stroke="#555" stroke-width="0.8"/>
<line x1="525.3" y1="285.1" x2="527.7" y2="285.1" stroke="#555" stroke-width="0.8"/>
<circle cx="526.5" cy="262.8" r="2.5" fill="none" stroke="#33cc33" stroke-width="1.05"/>
<line x1="546.2" y1="243.3" x2="546.2" y2="252.5" stroke="#606060" stroke-width="0.8"/>
<line x1="545.0" y1="243.3" x2="547.4000000000001" y2="243.3" stroke="#555" stroke-width="0.8"/>
<line x1="545.0" y1="252.5" x2="547.4000000000001" y2="252.5" stroke="#555" stroke-width="0.8"/>
<circle cx="546.2" cy="247.5" r="2.5" fill="none" stroke="#33cc33" stroke-width="1.05"/>
<line x1="565.9" y1="240.3" x2="565.9" y2="251.5" stroke="#606060" stroke-width="0.8"/>
<line x1="564.6999999999999" y1="240.3" x2="567.1" y2="240.3" stroke="#555" stroke-width="0.8"/>
<line x1="564.6999999999999" y1="251.5" x2="567.1" y2="251.5" stroke="#555" stroke-width="0.8"/>
<circle cx="565.9" cy="245.6" r="2.5" fill="none" stroke="#33cc33" stroke-width="1.05"/>
<line x1="585.4" y1="224.5" x2="585.4" y2="237.4" stroke="#606060" stroke-width="0.8"/>
<line x1="584.1999999999999" y1="224.5" x2="586.6" y2="224.5" stroke="#555" stroke-width="0.8"/>
<line x1="584.1999999999999" y1="237.4" x2="586.6" y2="237.4" stroke="#555" stroke-width="0.8"/>
<circle cx="585.4" cy="231" r="2.5" fill="none" stroke="#33cc33" stroke-width="1.05"/>
<line x1="605.2" y1="208.9" x2="605.2" y2="239.4" stroke="#606060" stroke-width="0.8"/>
<line x1="604.0" y1="208.9" x2="606.4000000000001" y2="208.9" stroke="#555" stroke-width="0.8"/>
<line x1="604.0" y1="239.4" x2="606.4000000000001" y2="239.4" stroke="#555" stroke-width="0.8"/>
<circle cx="605.2" cy="224.2" r="2.5" fill="none" stroke="#33cc33" stroke-width="1.05"/>
<line x1="624.7" y1="205.5" x2="624.7" y2="222.3" stroke="#606060" stroke-width="0.8"/>
<line x1="623.5" y1="205.5" x2="625.9000000000001" y2="205.5" stroke="#555" stroke-width="0.8"/>
<line x1="623.5" y1="222.3" x2="625.9000000000001" y2="222.3" stroke="#555" stroke-width="0.8"/>
<circle cx="624.7" cy="213.9" r="2.5" fill="none" stroke="#33cc33" stroke-width="1.05"/>
<text x="512.6" y="208.6" font-size="10.3" stroke="#000" stroke-width="0.15" textLength="45.4" lengthAdjust="spacingAndGlyphs"><tspan font-style="italic">cis</tspan>-eQTL</text>
<text x="464.8" y="261.2" font-size="12.2" text-anchor="middle" textLength="96.8" lengthAdjust="spacingAndGlyphs" stroke="#000" stroke-width="0.15" transform="rotate(-90 464.8 261.2)">Log2 ratio, 95% CI</text>
<line x1="43.3" y1="369.6" x2="43.3" y2="444.8" stroke="#777" stroke-width="1.4"/>
<line x1="42.6" y1="444.3" x2="257" y2="444.3" stroke="#555" stroke-width="1.2"/>
<line x1="41.2" y1="374.4" x2="43.3" y2="374.4" stroke="#555" stroke-width="0.9"/>
<text x="38.6" y="377.7" font-size="9.2" text-anchor="end" textLength="12.0" lengthAdjust="spacingAndGlyphs" fill="#666" stroke="#666" stroke-width="0.15">1.3</text>
<line x1="41.2" y1="388.4" x2="43.3" y2="388.4" stroke="#555" stroke-width="0.9"/>
<text x="38.6" y="391.7" font-size="9.2" text-anchor="end" textLength="12.0" lengthAdjust="spacingAndGlyphs" fill="#666" stroke="#666" stroke-width="0.15">1.2</text>
<line x1="41.2" y1="402.3" x2="43.3" y2="402.3" stroke="#555" stroke-width="0.9"/>
<text x="38.6" y="405.6" font-size="9.2" text-anchor="end" textLength="12.0" lengthAdjust="spacingAndGlyphs" fill="#666" stroke="#666" stroke-width="0.15">1.1</text>
<line x1="41.2" y1="416.4" x2="43.3" y2="416.4" stroke="#555" stroke-width="0.9"/>
<text x="38.6" y="419.7" font-size="9.2" text-anchor="end" textLength="12.0" lengthAdjust="spacingAndGlyphs" fill="#666" stroke="#666" stroke-width="0.15">1.0</text>
<line x1="41.2" y1="430.6" x2="43.3" y2="430.6" stroke="#555" stroke-width="0.9"/>
<text x="38.6" y="433.90000000000003" font-size="9.2" text-anchor="end" textLength="12.0" lengthAdjust="spacingAndGlyphs" fill="#666" stroke="#666" stroke-width="0.15">0.9</text>
<line x1="63.4" y1="444.3" x2="63.4" y2="446.2" stroke="#555" stroke-width="0.9"/>
<text x="63.05" y="456.9" font-size="10.5" text-anchor="middle" textLength="13.4" lengthAdjust="spacingAndGlyphs" fill="#111" stroke="#111" stroke-width="0.15">10</text>
<line x1="116.4" y1="444.3" x2="116.4" y2="446.2" stroke="#555" stroke-width="0.9"/>
<text x="116.2" y="456.9" font-size="10.5" text-anchor="middle" textLength="13.4" lengthAdjust="spacingAndGlyphs" fill="#111" stroke="#111" stroke-width="0.15">15</text>
<line x1="169.5" y1="444.3" x2="169.5" y2="446.2" stroke="#555" stroke-width="0.9"/>
<text x="169.5" y="456.9" font-size="10.5" text-anchor="middle" textLength="13.4" lengthAdjust="spacingAndGlyphs" fill="#111" stroke="#111" stroke-width="0.15">20</text>
<line x1="222.6" y1="444.3" x2="222.6" y2="446.2" stroke="#555" stroke-width="0.9"/>
<text x="222.6" y="456.9" font-size="10.5" text-anchor="middle" textLength="13.4" lengthAdjust="spacingAndGlyphs" fill="#111" stroke="#111" stroke-width="0.15">25</text>
<text stroke="#000" stroke-width="0.15" x="71.3" y="470.4" font-size="11.5" textLength="148.8" lengthAdjust="spacingAndGlyphs"><tspan font-style="italic">trans</tspan>-eQTL, -log10 (p-value)</text>
<text stroke="#000" stroke-width="0.15" x="19.9" y="410.6" font-size="9.3" text-anchor="middle" transform="rotate(-90 19.9 410.6)" textLength="79.6" lengthAdjust="spacingAndGlyphs">log<tspan font-size="6.5" dy="1">10</tspan><tspan dy="-1"> [Hi-C contacts]</tspan></text>
<line x1="44.2" y1="495.8" x2="44.2" y2="570.3" stroke="#777" stroke-width="1.4"/>
<line x1="43.5" y1="569.8" x2="258" y2="569.8" stroke="#555" stroke-width="1.2"/>
<line x1="42" y1="498.2" x2="44.2" y2="498.2" stroke="#555" stroke-width="0.9"/>
<text x="39.2" y="501.5" font-size="9.2" text-anchor="end" textLength="12.2" lengthAdjust="spacingAndGlyphs" fill="#666" stroke="#666" stroke-width="0.15">2.2</text>
<line x1="42" y1="521.3" x2="44.2" y2="521.3" stroke="#555" stroke-width="0.9"/>
<text x="39.2" y="524.5999999999999" font-size="9.2" text-anchor="end" textLength="12.2" lengthAdjust="spacingAndGlyphs" fill="#666" stroke="#666" stroke-width="0.15">2.0</text>
<line x1="42" y1="544.3" x2="44.2" y2="544.3" stroke="#555" stroke-width="0.9"/>
<text x="39.2" y="547.5999999999999" font-size="9.2" text-anchor="end" textLength="12.2" lengthAdjust="spacingAndGlyphs" fill="#666" stroke="#666" stroke-width="0.15">1.8</text>
<line x1="42" y1="567.4" x2="44.2" y2="567.4" stroke="#555" stroke-width="0.9"/>
<text x="39.2" y="570.6999999999999" font-size="9.2" text-anchor="end" textLength="12.2" lengthAdjust="spacingAndGlyphs" fill="#666" stroke="#666" stroke-width="0.15">1.6</text>
<line x1="88.8" y1="569.8" x2="88.8" y2="571.7" stroke="#555" stroke-width="0.9"/>
<text x="89.9" y="583.0" font-size="10.5" text-anchor="middle" textLength="14" lengthAdjust="spacingAndGlyphs" fill="#111" stroke="#111" stroke-width="0.15">20</text>
<line x1="153.7" y1="569.8" x2="153.7" y2="571.7" stroke="#555" stroke-width="0.9"/>
<text x="153.2" y="583.0" font-size="10.5" text-anchor="middle" textLength="14" lengthAdjust="spacingAndGlyphs" fill="#111" stroke="#111" stroke-width="0.15">40</text>
<line x1="217.8" y1="569.8" x2="217.8" y2="571.7" stroke="#555" stroke-width="0.9"/>
<text x="218.2" y="583.0" font-size="10.5" text-anchor="middle" textLength="14" lengthAdjust="spacingAndGlyphs" fill="#111" stroke="#111" stroke-width="0.15">60</text>
<text stroke="#000" stroke-width="0.15" x="91" y="595.4" font-size="11.5" textLength="136.7" lengthAdjust="spacingAndGlyphs"><tspan font-style="italic">cis</tspan>-eQTL, -log10 (p-value)</text>
<text stroke="#000" stroke-width="0.15" x="21.4" y="532.0" font-size="9.3" text-anchor="middle" transform="rotate(-90 21.4 532.0)" textLength="79.6" lengthAdjust="spacingAndGlyphs">log<tspan font-size="6.5" dy="1">10</tspan><tspan dy="-1"> [Hi-C contacts]</tspan></text>
<line x1="325.6" y1="445.3" x2="325.6" y2="554.3" stroke="#111" stroke-width="1.4"/>
<line x1="325" y1="553.9" x2="417.2" y2="553.9" stroke="#111" stroke-width="1.4"/>
<line x1="418.9" y1="553.9" x2="430.6" y2="553.9" stroke="#111" stroke-width="1.4" stroke-dasharray="1.2,1.9"/>
<line x1="431.1" y1="553.9" x2="452.2" y2="553.9" stroke="#111" stroke-width="1.4"/>
<line x1="322.8" y1="447.3" x2="325.6" y2="447.3" stroke="#111" stroke-width="1"/>
<text x="321.2" y="452.1" font-size="13.5" text-anchor="end" fill="#555" stroke="#555" stroke-width="0.15">150</text>
<line x1="322.8" y1="480.9" x2="325.6" y2="480.9" stroke="#111" stroke-width="1"/>
<text x="321.2" y="485.7" font-size="13.5" text-anchor="end" fill="#555" stroke="#555" stroke-width="0.15">100</text>
<line x1="322.8" y1="514.7" x2="325.6" y2="514.7" stroke="#111" stroke-width="1"/>
<text x="321.2" y="519.5" font-size="13.5" text-anchor="end" fill="#555" stroke="#555" stroke-width="0.15">50</text>
<line x1="322.8" y1="548.5" x2="325.6" y2="548.5" stroke="#111" stroke-width="1"/>
<text x="321.2" y="553.3" font-size="13.5" text-anchor="end" fill="#555" stroke="#555" stroke-width="0.15">0</text>
<line x1="330.3" y1="553.9" x2="330.3" y2="557" stroke="#111" stroke-width="1"/>
<line x1="349.6" y1="553.9" x2="349.6" y2="557" stroke="#111" stroke-width="1"/>
<line x1="368.6" y1="553.9" x2="368.6" y2="557" stroke="#111" stroke-width="1"/>
<line x1="388.4" y1="553.9" x2="388.4" y2="557" stroke="#111" stroke-width="1"/>
<line x1="408.1" y1="553.9" x2="408.1" y2="557" stroke="#111" stroke-width="1"/>
<line x1="447.5" y1="553.9" x2="447.5" y2="557" stroke="#111" stroke-width="1"/>
<text x="332.6" y="570.2" font-size="12.8" text-anchor="middle" textLength="25.6" lengthAdjust="spacingAndGlyphs" fill="#555" stroke="#555" stroke-width="0.15">0.91</text>
<text x="374.7" y="570.2" font-size="12.8" text-anchor="middle" textLength="25.6" lengthAdjust="spacingAndGlyphs" fill="#555" stroke="#555" stroke-width="0.15">0.92</text>
<text x="410.8" y="570.2" font-size="12.8" text-anchor="middle" textLength="25.6" lengthAdjust="spacingAndGlyphs" fill="#555" stroke="#555" stroke-width="0.15">0.93</text>
<text x="448" y="570.2" font-size="12.8" text-anchor="middle" textLength="25.6" lengthAdjust="spacingAndGlyphs" fill="#555" stroke="#555" stroke-width="0.15">1.24</text>
<text stroke="#000" stroke-width="0.15" x="343" y="586" font-size="12.5" textLength="105" lengthAdjust="spacingAndGlyphs">log<tspan font-size="9" dy="2">10</tspan><tspan dy="-2"> [Hi-C contacts]</tspan></text>
<text x="290.0" y="499.2" font-size="12.5" text-anchor="middle" textLength="39.6" lengthAdjust="spacingAndGlyphs" fill="#111" stroke="#111" stroke-width="0.15" transform="rotate(-90 290.0 499.2)">Density</text>
<line x1="329.9" y1="548.9" x2="417.2" y2="548.9" stroke="#000" stroke-width="1.4"/>
<line x1="418.9" y1="548.9" x2="430.6" y2="548.9" stroke="#000" stroke-width="1.4" stroke-dasharray="1.2,1.9"/>
<line x1="431.1" y1="548.9" x2="448.1" y2="548.9" stroke="#000" stroke-width="1.4"/>
<path d="M329.90,548.90 C331.58,548.90 337.55,548.95 340.00,548.90 C342.45,548.85 343.18,549.28 344.60,548.60 C346.02,547.92 347.38,546.57 348.50,544.80 C349.62,543.03 350.35,541.37 351.30,538.00 C352.25,534.63 353.38,529.07 354.20,524.60 C355.02,520.13 355.55,516.00 356.20,511.20 C356.85,506.40 357.47,500.30 358.10,495.80 C358.73,491.30 359.37,487.42 360.00,484.20 C360.63,480.98 361.10,479.38 361.90,476.50 C362.70,473.62 363.83,469.93 364.80,466.90 C365.77,463.87 366.90,460.87 367.70,458.30 C368.50,455.73 368.97,453.02 369.60,451.50 C370.23,449.98 370.85,449.35 371.50,449.20 C372.15,449.05 372.85,449.57 373.50,450.60 C374.15,451.63 374.60,452.68 375.40,455.40 C376.20,458.12 377.33,462.73 378.30,466.90 C379.27,471.07 380.25,475.27 381.20,480.40 C382.15,485.53 383.20,492.90 384.00,497.70 C384.80,502.50 385.20,505.35 386.00,509.20 C386.80,513.05 387.68,516.95 388.80,520.80 C389.92,524.65 391.42,528.93 392.70,532.30 C393.98,535.67 395.07,538.82 396.50,541.00 C397.93,543.18 399.68,544.18 401.30,545.40 C402.92,546.62 404.43,547.72 406.20,548.30 C407.97,548.88 410.03,548.80 411.90,548.90 C413.77,549.00 416.48,548.90 417.40,548.90" fill="none" stroke="#000" stroke-width="1.5"/>
<line x1="369.6" y1="446.5" x2="369.6" y2="549.2" stroke="#000" stroke-width="1.25" stroke-dasharray="4.6,3.4"/>
<line x1="447.9" y1="449.5" x2="447.9" y2="551" stroke="#1c80d4" stroke-width="1.7" stroke-dasharray="5,1.5"/>
<text x="309.6" y="421" font-size="9" textLength="89.7" lengthAdjust="spacingAndGlyphs" fill="#111" stroke="#111" stroke-width="0.15">Mean of randomized</text>
<text x="330.8" y="432.3" font-size="9" textLength="47.7" lengthAdjust="spacingAndGlyphs" fill="#111" stroke="#111" stroke-width="0.15">data (0.92)</text>
<text x="408.8" y="421.3" font-size="9" textLength="77.2" lengthAdjust="spacingAndGlyphs" fill="#111" stroke="#111" stroke-width="0.15">Hi-C contacts b/w</text>
<text stroke="#111" stroke-width="0.15" x="408.8" y="432.5" font-size="9" fill="#111" textLength="105" lengthAdjust="spacingAndGlyphs">regions with <tspan font-style="italic">trans</tspan>-eQTL</text>
<text x="408.8" y="443.8" font-size="9" textLength="105" lengthAdjust="spacingAndGlyphs" fill="#111" stroke="#111" stroke-width="0.15">and target genes&#160;&#160;(1.24)</text>
<line x1="551.5" y1="442.2" x2="551.5" y2="553.9" stroke="#222" stroke-width="1.3"/>
<line x1="551" y1="554.0" x2="675.6" y2="554.0" stroke="#222" stroke-width="1.3"/>
<line x1="549" y1="442.7" x2="551.5" y2="442.7" stroke="#222" stroke-width="0.9"/>
<text x="547.4" y="446.9" font-size="11.8" text-anchor="end" textLength="16.6" lengthAdjust="spacingAndGlyphs" fill="#555" stroke="#555" stroke-width="0.15">2.0</text>
<line x1="549" y1="469.2" x2="551.5" y2="469.2" stroke="#222" stroke-width="0.9"/>
<text x="547.4" y="473.4" font-size="11.8" text-anchor="end" textLength="16.6" lengthAdjust="spacingAndGlyphs" fill="#555" stroke="#555" stroke-width="0.15">1.5</text>
<line x1="549" y1="495.4" x2="551.5" y2="495.4" stroke="#222" stroke-width="0.9"/>
<text x="547.4" y="499.59999999999997" font-size="11.8" text-anchor="end" textLength="16.6" lengthAdjust="spacingAndGlyphs" fill="#555" stroke="#555" stroke-width="0.15">1.0</text>
<line x1="549" y1="522.3" x2="551.5" y2="522.3" stroke="#222" stroke-width="0.9"/>
<text x="547.4" y="526.5" font-size="11.8" text-anchor="end" textLength="16.6" lengthAdjust="spacingAndGlyphs" fill="#555" stroke="#555" stroke-width="0.15">0.5</text>
<line x1="549" y1="548.3" x2="551.5" y2="548.3" stroke="#222" stroke-width="0.9"/>
<text x="547.4" y="552.5" font-size="11.8" text-anchor="end" textLength="16.6" lengthAdjust="spacingAndGlyphs" fill="#555" stroke="#555" stroke-width="0.15">0.0</text>
<line x1="556.9" y1="554.0" x2="556.9" y2="556.0" stroke="#222" stroke-width="0.9"/>
<text x="556.9" y="568.5" font-size="12" text-anchor="middle" fill="#222" stroke="#222" stroke-width="0.15">0</text>
<line x1="588.5" y1="554.0" x2="588.5" y2="556.0" stroke="#222" stroke-width="0.9"/>
<text x="588.5" y="568.5" font-size="12" text-anchor="middle" fill="#222" stroke="#222" stroke-width="0.15">1</text>
<line x1="619.4" y1="554.0" x2="619.4" y2="556.0" stroke="#222" stroke-width="0.9"/>
<text x="619.4" y="568.5" font-size="12" text-anchor="middle" fill="#222" stroke="#222" stroke-width="0.15">2</text>
<line x1="650.6" y1="554.0" x2="650.6" y2="556.0" stroke="#222" stroke-width="0.9"/>
<text x="650.6" y="568.5" font-size="12" text-anchor="middle" fill="#222" stroke="#222" stroke-width="0.15">3</text>
<text stroke="#000" stroke-width="0.15" x="554.8" y="583.8" font-size="12.5" textLength="105.5" lengthAdjust="spacingAndGlyphs">log<tspan font-size="9" dy="2">10</tspan><tspan dy="-2"> [Hi-C contacts]</tspan></text>
<text x="516.6" y="496.5" font-size="12.5" text-anchor="middle" textLength="40.2" lengthAdjust="spacingAndGlyphs" fill="#111" stroke="#111" stroke-width="0.15" transform="rotate(-90 516.6 496.5)">Density</text>
<path d="M556.9,542.9 C558.5,545 559.5,547.6 560.4,547.6 C562,547 563,538 565.1,535.9 C566.5,534.5 567,535 567.5,533.6 C570,526 574,505 577,485 C579.5,465 581.5,447 583.4,446.9 C585.5,447 587.5,470 589,490 C590,502 590.5,508 590.9,513.7 C592.5,528 594,537 595.6,541.7 C597,545.5 598.5,547.3 600.2,547.8 L670.5,548.3" fill="none" stroke="#111" stroke-width="1.2"/>
<path d="M556.9,548.3 L568,548.1 C571,547.9 572,547.6 574,546.8 C578,545 581,540 583.9,534.7 C586.5,529 588.5,520 590.9,519.5 C593.5,519.5 595.5,527 598,528.8 C600,530 601.5,529.5 603,527 C606,522 607,517 609.6,513 C612.5,508 616,504.8 619.4,504.8 C621.5,505 622.5,506 623.7,507.8 C626.5,512 629.5,522 633,530 C636.5,538 639,542.5 642.4,544.1 C645.5,546 648.5,547.3 651.8,547.8 L670.5,548.3" fill="none" stroke="#d42020" stroke-width="1.3"/>
<line x1="589" y1="428.9" x2="602.6" y2="428.9" stroke="#d42020" stroke-width="1.5"/>
<line x1="589" y1="458" x2="602.6" y2="458" stroke="#111" stroke-width="1.5"/>
<text x="607.6" y="429.9" font-size="9" textLength="66.6" lengthAdjust="spacingAndGlyphs" fill="#111" stroke="#111" stroke-width="0.15">Homoeologous</text>
<text x="607.6" y="440.9" font-size="9" textLength="57.6" lengthAdjust="spacingAndGlyphs" fill="#111" stroke="#111" stroke-width="0.15">gene regions</text>
<text x="607.6" y="462.8" font-size="9" textLength="78" lengthAdjust="spacingAndGlyphs" fill="#111" stroke="#111" stroke-width="0.15">Randomized data</text>
<path d="M51.9,437.5 L52.6,436 L53.3,438 L54,436.3 L54.7,437.8 L55.4,436 L56.1,437.5 L56.8,436.5 L57.5,438.5 L58.2,437.2 L58.9,438.6 L59.6,436.5 L60.3,434.8 L61.2,434.2 L62,434.6 L62.8,434 L63.6,434.3 L64.5,435 L65.4,435.8 L66.3,436.3 L67.3,436.2 L68.3,435.5 L69.3,434.6 L70.3,434 L71.8,432.8 L73.7,431.6 L77.5,432.8 L82.4,433.5 L88.5,429.3 L99.1,427.5 L120.6,416.4 L247.7,378.6" fill="none" stroke="#2fd42f" stroke-width="1.05"/>
<line x1="51.9" y1="434.7" x2="51.9" y2="440.3" stroke="#6c6" stroke-width="0.7" opacity="0.85"/>
<circle cx="51.9" cy="437.5" r="1.15" fill="#3b3" stroke="#3b3" stroke-width="0.4"/>
<line x1="52.6" y1="433.2" x2="52.6" y2="438.8" stroke="#6c6" stroke-width="0.7" opacity="0.85"/>
<circle cx="52.6" cy="436" r="1.15" fill="#3b3" stroke="#3b3" stroke-width="0.4"/>
<line x1="53.3" y1="435.2" x2="53.3" y2="440.8" stroke="#6c6" stroke-width="0.7" opacity="0.85"/>
<circle cx="53.3" cy="438" r="1.15" fill="#3b3" stroke="#3b3" stroke-width="0.4"/>
<line x1="54" y1="433.5" x2="54" y2="439.1" stroke="#6c6" stroke-width="0.7" opacity="0.85"/>
<circle cx="54" cy="436.3" r="1.15" fill="#3b3" stroke="#3b3" stroke-width="0.4"/>
<line x1="54.7" y1="435.0" x2="54.7" y2="440.6" stroke="#6c6" stroke-width="0.7" opacity="0.85"/>
<circle cx="54.7" cy="437.8" r="1.15" fill="#3b3" stroke="#3b3" stroke-width="0.4"/>
<line x1="55.4" y1="433.2" x2="55.4" y2="438.8" stroke="#6c6" stroke-width="0.7" opacity="0.85"/>
<circle cx="55.4" cy="436" r="1.15" fill="#3b3" stroke="#3b3" stroke-width="0.4"/>
<line x1="56.1" y1="434.7" x2="56.1" y2="440.3" stroke="#6c6" stroke-width="0.7" opacity="0.85"/>
<circle cx="56.1" cy="437.5" r="1.15" fill="#3b3" stroke="#3b3" stroke-width="0.4"/>
<line x1="56.8" y1="433.7" x2="56.8" y2="439.3" stroke="#6c6" stroke-width="0.7" opacity="0.85"/>
<circle cx="56.8" cy="436.5" r="1.15" fill="#3b3" stroke="#3b3" stroke-width="0.4"/>
<line x1="57.5" y1="435.7" x2="57.5" y2="441.3" stroke="#6c6" stroke-width="0.7" opacity="0.85"/>
<circle cx="57.5" cy="438.5" r="1.15" fill="#3b3" stroke="#3b3" stroke-width="0.4"/>
<line x1="58.2" y1="434.4" x2="58.2" y2="440.0" stroke="#6c6" stroke-width="0.7" opacity="0.85"/>
<circle cx="58.2" cy="437.2" r="1.15" fill="#3b3" stroke="#3b3" stroke-width="0.4"/>
<line x1="58.9" y1="435.8" x2="58.9" y2="441.40000000000003" stroke="#6c6" stroke-width="0.7" opacity="0.85"/>
<circle cx="58.9" cy="438.6" r="1.15" fill="#3b3" stroke="#3b3" stroke-width="0.4"/>
<line x1="59.6" y1="433.7" x2="59.6" y2="439.3" stroke="#6c6" stroke-width="0.7" opacity="0.85"/>
<circle cx="59.6" cy="436.5" r="1.15" fill="#3b3" stroke="#3b3" stroke-width="0.4"/>
<line x1="60.3" y1="432.0" x2="60.3" y2="437.6" stroke="#6c6" stroke-width="0.7" opacity="0.85"/>
<circle cx="60.3" cy="434.8" r="1.15" fill="#3b3" stroke="#3b3" stroke-width="0.4"/>
<line x1="61.2" y1="431.4" x2="61.2" y2="437.0" stroke="#6c6" stroke-width="0.7" opacity="0.85"/>
<circle cx="61.2" cy="434.2" r="1.15" fill="#3b3" stroke="#3b3" stroke-width="0.4"/>
<line x1="62" y1="431.8" x2="62" y2="437.40000000000003" stroke="#6c6" stroke-width="0.7" opacity="0.85"/>
<circle cx="62" cy="434.6" r="1.15" fill="#3b3" stroke="#3b3" stroke-width="0.4"/>
<line x1="62.8" y1="431.2" x2="62.8" y2="436.8" stroke="#6c6" stroke-width="0.7" opacity="0.85"/>
<circle cx="62.8" cy="434" r="1.15" fill="#3b3" stroke="#3b3" stroke-width="0.4"/>
<line x1="63.6" y1="431.5" x2="63.6" y2="437.1" stroke="#6c6" stroke-width="0.7" opacity="0.85"/>
<circle cx="63.6" cy="434.3" r="1.15" fill="#3b3" stroke="#3b3" stroke-width="0.4"/>
<line x1="64.5" y1="432.2" x2="64.5" y2="437.8" stroke="#6c6" stroke-width="0.7" opacity="0.85"/>
<circle cx="64.5" cy="435" r="1.15" fill="#3b3" stroke="#3b3" stroke-width="0.4"/>
<line x1="65.4" y1="433.0" x2="65.4" y2="438.6" stroke="#6c6" stroke-width="0.7" opacity="0.85"/>
<circle cx="65.4" cy="435.8" r="1.15" fill="#3b3" stroke="#3b3" stroke-width="0.4"/>
<line x1="66.3" y1="433.5" x2="66.3" y2="439.1" stroke="#6c6" stroke-width="0.7" opacity="0.85"/>
<circle cx="66.3" cy="436.3" r="1.15" fill="#3b3" stroke="#3b3" stroke-width="0.4"/>
<line x1="67.3" y1="433.4" x2="67.3" y2="439.0" stroke="#6c6" stroke-width="0.7" opacity="0.85"/>
<circle cx="67.3" cy="436.2" r="1.15" fill="#3b3" stroke="#3b3" stroke-width="0.4"/>
<line x1="68.3" y1="432.7" x2="68.3" y2="438.3" stroke="#6c6" stroke-width="0.7" opacity="0.85"/>
<circle cx="68.3" cy="435.5" r="1.15" fill="#3b3" stroke="#3b3" stroke-width="0.4"/>
<line x1="69.3" y1="431.8" x2="69.3" y2="437.40000000000003" stroke="#6c6" stroke-width="0.7" opacity="0.85"/>
<circle cx="69.3" cy="434.6" r="1.15" fill="#3b3" stroke="#3b3" stroke-width="0.4"/>
<line x1="70.3" y1="431.2" x2="70.3" y2="436.8" stroke="#6c6" stroke-width="0.7" opacity="0.85"/>
<circle cx="70.3" cy="434" r="1.15" fill="#3b3" stroke="#3b3" stroke-width="0.4"/>
<line x1="71.8" y1="429.3" x2="71.8" y2="436.3" stroke="#6c6" stroke-width="0.7" opacity="0.85"/>
<circle cx="71.8" cy="432.8" r="1.4" fill="#3b3" stroke="#3b3" stroke-width="0.4"/>
<line x1="73.7" y1="428.1" x2="73.7" y2="435.1" stroke="#6c6" stroke-width="0.7" opacity="0.85"/>
<circle cx="73.7" cy="431.6" r="1.4" fill="#3b3" stroke="#3b3" stroke-width="0.4"/>
<line x1="77.5" y1="429.3" x2="77.5" y2="436.3" stroke="#6c6" stroke-width="0.7" opacity="0.85"/>
<circle cx="77.5" cy="432.8" r="1.4" fill="#3b3" stroke="#3b3" stroke-width="0.4"/>
<line x1="82.4" y1="430.0" x2="82.4" y2="437.0" stroke="#6c6" stroke-width="0.7" opacity="0.85"/>
<circle cx="82.4" cy="433.5" r="1.4" fill="#3b3" stroke="#3b3" stroke-width="0.4"/>
<line x1="88.5" y1="425.8" x2="88.5" y2="432.8" stroke="#6c6" stroke-width="0.7" opacity="0.85"/>
<circle cx="88.5" cy="429.3" r="1.4" fill="#3b3" stroke="#3b3" stroke-width="0.4"/>
<line x1="99.1" y1="422.9" x2="99.1" y2="432.1" stroke="#6c6" stroke-width="0.7" opacity="0.85"/>
<circle cx="99.1" cy="427.5" r="1.4" fill="#3b3" stroke="#3b3" stroke-width="0.4"/>
<line x1="120.6" y1="411.79999999999995" x2="120.6" y2="421.0" stroke="#6c6" stroke-width="0.7" opacity="0.85"/>
<circle cx="120.6" cy="416.4" r="1.4" fill="#3b3" stroke="#3b3" stroke-width="0.4"/>
<line x1="247.7" y1="372.6" x2="247.7" y2="384.6" stroke="#6c6" stroke-width="0.7" opacity="0.85"/>
<circle cx="247.7" cy="378.6" r="1.4" fill="#3b3" stroke="#3b3" stroke-width="0.4"/>
<path d="M53.5,558.5 L54.2,554.7 L54.9,545.2 L55.6,552 L56.4,555.4 L57.3,549 L58.5,541.9 L60.3,539.5 L62,550.4 L63.9,545.7 L65.3,538.1 L68.4,535.2 L72.7,523.4 L78.4,519.6 L86.5,516.3 L99.4,518 L120.6,518.4 L153.7,521.9 L248.6,507.5" fill="none" stroke="#2a3acc" stroke-width="1.2"/>
<line x1="53.5" y1="551.0" x2="53.5" y2="566.0" stroke="#5a6ad0" stroke-width="0.8" opacity="0.85"/>
<circle cx="53.5" cy="558.5" r="1.5" fill="#23349a" stroke="#23349a" stroke-width="0.5"/>
<line x1="54.2" y1="547.2" x2="54.2" y2="562.2" stroke="#5a6ad0" stroke-width="0.8" opacity="0.85"/>
<circle cx="54.2" cy="554.7" r="1.5" fill="#23349a" stroke="#23349a" stroke-width="0.5"/>
<line x1="54.9" y1="537.7" x2="54.9" y2="552.7" stroke="#5a6ad0" stroke-width="0.8" opacity="0.85"/>
<circle cx="54.9" cy="545.2" r="1.5" fill="#23349a" stroke="#23349a" stroke-width="0.5"/>
<line x1="55.6" y1="544.5" x2="55.6" y2="559.5" stroke="#5a6ad0" stroke-width="0.8" opacity="0.85"/>
<circle cx="55.6" cy="552" r="1.5" fill="#23349a" stroke="#23349a" stroke-width="0.5"/>
<line x1="56.4" y1="547.9" x2="56.4" y2="562.9" stroke="#5a6ad0" stroke-width="0.8" opacity="0.85"/>
<circle cx="56.4" cy="555.4" r="1.5" fill="#23349a" stroke="#23349a" stroke-width="0.5"/>
<line x1="57.3" y1="541.5" x2="57.3" y2="556.5" stroke="#5a6ad0" stroke-width="0.8" opacity="0.85"/>
<circle cx="57.3" cy="549" r="1.5" fill="#23349a" stroke="#23349a" stroke-width="0.5"/>
<line x1="58.5" y1="534.4" x2="58.5" y2="549.4" stroke="#5a6ad0" stroke-width="0.8" opacity="0.85"/>
<circle cx="58.5" cy="541.9" r="1.5" fill="#23349a" stroke="#23349a" stroke-width="0.5"/>
<line x1="60.3" y1="532.0" x2="60.3" y2="547.0" stroke="#5a6ad0" stroke-width="0.8" opacity="0.85"/>
<circle cx="60.3" cy="539.5" r="1.5" fill="#23349a" stroke="#23349a" stroke-width="0.5"/>
<line x1="62" y1="542.9" x2="62" y2="557.9" stroke="#5a6ad0" stroke-width="0.8" opacity="0.85"/>
<circle cx="62" cy="550.4" r="1.5" fill="#23349a" stroke="#23349a" stroke-width="0.5"/>
<line x1="63.9" y1="538.2" x2="63.9" y2="553.2" stroke="#5a6ad0" stroke-width="0.8" opacity="0.85"/>
<circle cx="63.9" cy="545.7" r="1.5" fill="#23349a" stroke="#23349a" stroke-width="0.5"/>
<line x1="65.3" y1="530.6" x2="65.3" y2="545.6" stroke="#5a6ad0" stroke-width="0.8" opacity="0.85"/>
<circle cx="65.3" cy="538.1" r="1.5" fill="#23349a" stroke="#23349a" stroke-width="0.5"/>
<line x1="68.4" y1="527.7" x2="68.4" y2="542.7" stroke="#5a6ad0" stroke-width="0.8" opacity="0.85"/>
<circle cx="68.4" cy="535.2" r="1.5" fill="#23349a" stroke="#23349a" stroke-width="0.5"/>
<line x1="72.7" y1="515.9" x2="72.7" y2="530.9" stroke="#5a6ad0" stroke-width="0.8" opacity="0.85"/>
<circle cx="72.7" cy="523.4" r="1.5" fill="#23349a" stroke="#23349a" stroke-width="0.5"/>
<line x1="78.4" y1="511.0" x2="78.4" y2="528.2" stroke="#5a6ad0" stroke-width="0.8" opacity="0.85"/>
<circle cx="78.4" cy="519.6" r="1.5" fill="#23349a" stroke="#23349a" stroke-width="0.5"/>
<line x1="86.5" y1="507.69999999999993" x2="86.5" y2="524.9" stroke="#5a6ad0" stroke-width="0.8" opacity="0.85"/>
<circle cx="86.5" cy="516.3" r="1.5" fill="#23349a" stroke="#23349a" stroke-width="0.5"/>
<line x1="99.4" y1="509.4" x2="99.4" y2="526.6" stroke="#5a6ad0" stroke-width="0.8" opacity="0.85"/>
<circle cx="99.4" cy="518" r="1.5" fill="#23349a" stroke="#23349a" stroke-width="0.5"/>
<line x1="120.6" y1="509.79999999999995" x2="120.6" y2="527.0" stroke="#5a6ad0" stroke-width="0.8" opacity="0.85"/>
<circle cx="120.6" cy="518.4" r="1.5" fill="#23349a" stroke="#23349a" stroke-width="0.5"/>
<line x1="153.7" y1="513.3" x2="153.7" y2="530.5" stroke="#5a6ad0" stroke-width="0.8" opacity="0.85"/>
<circle cx="153.7" cy="521.9" r="1.5" fill="#23349a" stroke="#23349a" stroke-width="0.5"/>
<line x1="248.6" y1="498.3" x2="248.6" y2="516.7" stroke="#5a6ad0" stroke-width="0.8" opacity="0.85"/>
<circle cx="248.6" cy="507.5" r="1.5" fill="#23349a" stroke="#23349a" stroke-width="0.5"/>
</svg>
</body></html>
